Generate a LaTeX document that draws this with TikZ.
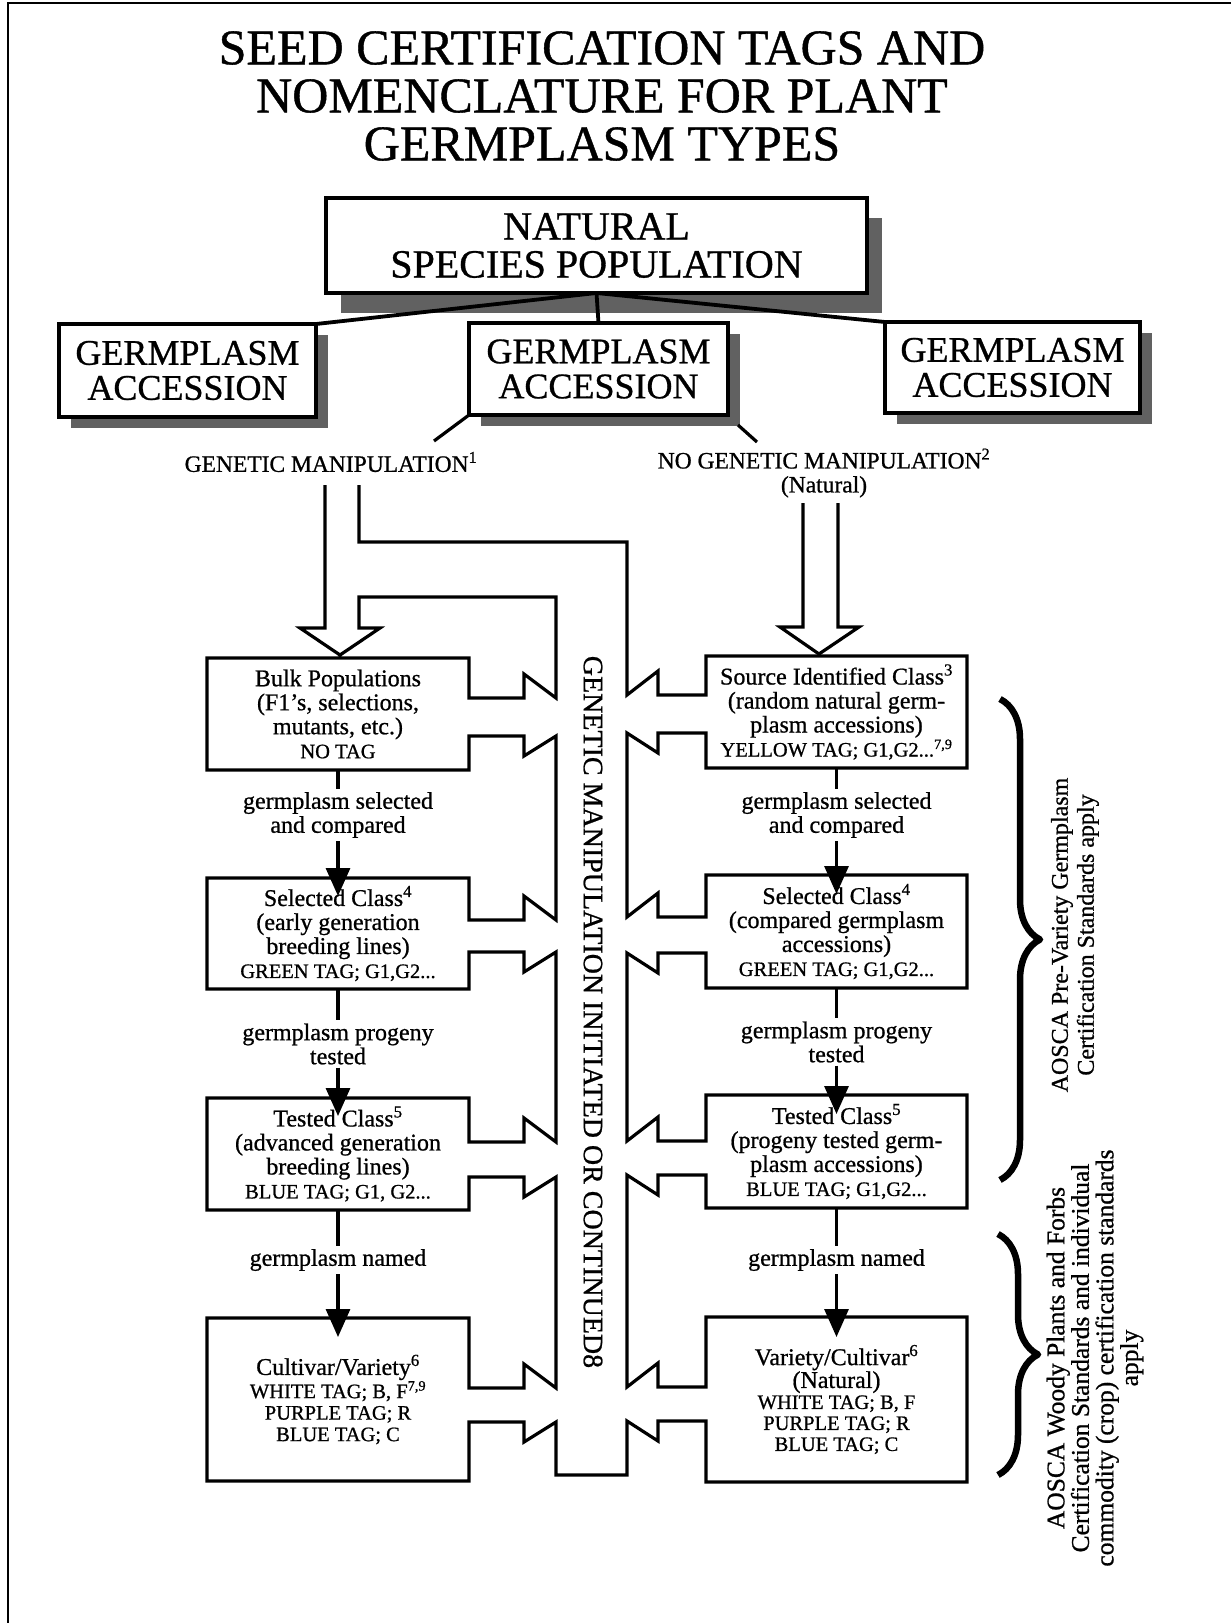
\documentclass[tikz,border=0pt]{standalone}
\usepackage{fontspec}
\setmainfont[FakeBold=0.8]{Liberation Serif}
\usetikzlibrary{arrows.meta,shadows,decorations.pathreplacing}
\newcommand\tagf{\fontsize{20.5}{22}\selectfont}
\begin{document}
\begin{tikzpicture}[x=1pt,y=-1pt,line join=miter,
  outline/.style={line width=3.2pt},
  topbox/.style={draw,line width=3.4pt,fill=white,inner sep=0pt,outer sep=0pt,align=center},
  classbox/.style={inner sep=0pt,outer sep=0pt,align=center,font=\fontsize{24}{24}\selectfont},
  lbl/.style={inner sep=3pt,align=center,font=\fontsize{24}{24}\selectfont},
  conn/.style={line width=3.2pt},
  tipline/.style={conn,-{Triangle[length=28pt,width=24pt]}},
  curly/.style={line width=6.5pt,line join=round,decorate,decoration={brace,amplitude=40pt}},
  ]
\useasboundingbox (0,0) rectangle (1231,1623);
\fill[white] (0,0) rectangle (1231,1623);
\draw[line width=2.5pt] (8,1623) -- (8,3) -- (1231,3);

% title
\node[font=\fontsize{50}{48}\selectfont,align=center] (title) at (602,96)
  {SEED CERTIFICATION TAGS AND\\NOMENCLATURE FOR PLANT\\GERMPLASM TYPES};

% top boxes
\node[topbox,minimum width=541pt,minimum height=95pt,font=\fontsize{40}{38}\selectfont,
  drop shadow={shadow xshift=15pt,shadow yshift=-20pt,opacity=1,fill=black!62}]
  (nat) at (596.5,245.5) {NATURAL\\SPECIES POPULATION};
\node[topbox,minimum width=257pt,minimum height=93pt,font=\fontsize{36}{35}\selectfont,
  drop shadow={shadow xshift=12pt,shadow yshift=-11pt,opacity=1,fill=black!62}]
  (gl) at (187.5,370.5) {GERMPLASM\\ACCESSION};
\node[topbox,minimum width=259pt,minimum height=92pt,font=\fontsize{36}{35}\selectfont,
  drop shadow={shadow xshift=12pt,shadow yshift=-11pt,opacity=1,fill=black!62}]
  (gm) at (598.5,369) {GERMPLASM\\ACCESSION};
\node[topbox,minimum width=255pt,minimum height=91pt,font=\fontsize{36}{35}\selectfont,
  drop shadow={shadow xshift=12pt,shadow yshift=-11pt,opacity=1,fill=black!62}]
  (gr) at (1012.5,367.5) {GERMPLASM\\ACCESSION};

\draw[line width=3.8pt] (nat.south) -- (gl.north east);
\draw[line width=3.8pt] (nat.south) -- (gm.north);
\draw[line width=3.8pt] (nat.south) -- (gr.north west);

% branch labels
\node[font=\fontsize{23.5}{24}\selectfont,inner sep=2pt] (genm) at (331,462) {GENETIC MANIPULATION\textsuperscript{1}};
\node[font=\fontsize{23.5}{24}\selectfont,inner sep=2pt,align=center] (nogen) at (824,473)
  {NO GENETIC MANIPULATION\textsuperscript{2}\\(Natural)};
\coordinate (gml) at (434,441);
\coordinate (gmr) at (757,442);
\draw[conn] (gm.south west) -- (gml);
\draw[conn] ([xshift=10pt,yshift=-10pt]gm.south east) -- (gmr);

% class boxes (text)
\node[classbox,minimum width=262pt,minimum height=112pt] (bulk) at (338,714)
  {Bulk Populations\\(F1's, selections,\\mutants, etc.)\\{\tagf NO TAG}};
\node[classbox,minimum width=262pt,minimum height=111pt] (sell) at (338,933.5)
  {Selected Class\textsuperscript{4}\\(early generation\\breeding lines)\\{\tagf GREEN TAG; G1,G2...}};
\node[classbox,minimum width=262pt,minimum height=112pt] (testl) at (338,1154)
  {Tested Class\textsuperscript{5}\\(advanced generation\\breeding lines)\\{\tagf BLUE TAG; G1, G2...}};
\node[classbox,minimum width=262pt,minimum height=163pt,font=\fontsize{24}{21.5}\selectfont] (cult) at (338,1399.5)
  {Cultivar/Variety\textsuperscript{6}\\{\tagf WHITE TAG; B, F\textsuperscript{7,9}}\\{\tagf PURPLE TAG; R}\\{\tagf BLUE TAG; C}};

\node[classbox,minimum width=261pt,minimum height=112pt] (src) at (836.5,712)
  {Source Identified Class\textsuperscript{3}\\(random natural germ-\\plasm accessions)\\{\tagf YELLOW TAG; G1,G2...\textsuperscript{7,9}}};
\node[classbox,minimum width=261pt,minimum height=113pt] (selr) at (836.5,931.5)
  {Selected Class\textsuperscript{4}\\(compared germplasm\\accessions)\\{\tagf GREEN TAG; G1,G2...}};
\node[classbox,minimum width=261pt,minimum height=113pt] (testr) at (836.5,1151.5)
  {Tested Class\textsuperscript{5}\\(progeny tested germ-\\plasm accessions)\\{\tagf BLUE TAG; G1,G2...}};
\node[classbox,minimum width=261pt,minimum height=165pt,font=\fontsize{24}{21}\selectfont] (var) at (836.5,1399.5)
  {Variety/Cultivar\textsuperscript{6}\\(Natural)\\{\tagf WHITE TAG; B, F}\\{\tagf PURPLE TAG; R}\\{\tagf BLUE TAG; C}};

% big outline: hollow arrow, channel, boxes and tabs
\draw[outline]
 (325,485) -- (325,628) -- (300,628) -- (340,655) -- (380,628) -- (359,628) -- (359,597) -- (556,597)
 -- (556,698) -- (524,674) -- (524,698) -- (469,698) -- (bulk.north east) -- (bulk.north west) -- (bulk.south west) -- (bulk.south east) -- (469,736) -- (524,736) -- (524,756) -- (556,736)
 -- (556,920) -- (524,896) -- (524,920) -- (469,920) -- (sell.north east) -- (sell.north west) -- (sell.south west) -- (sell.south east) -- (469,952) -- (524,952) -- (524,972) -- (556,952)
 -- (556,1142) -- (524,1118) -- (524,1142) -- (469,1142) -- (testl.north east) -- (testl.north west) -- (testl.south west) -- (testl.south east) -- (469,1177) -- (524,1177) -- (524,1197) -- (556,1177)
 -- (556,1388) -- (524,1364) -- (524,1388) -- (469,1388) -- (cult.north east) -- (cult.north west) -- (cult.south west) -- (cult.south east) -- (469,1422) -- (524,1422) -- (524,1442) -- (556,1422)
 -- (556,1475) -- (627,1475)
 -- (627,1421) -- (658,1441) -- (658,1421) -- (706,1421) -- (var.south west) -- (var.south east) -- (var.north east) -- (var.north west) -- (706,1387) -- (658,1387) -- (658,1363) -- (627,1387)
 -- (627,1175) -- (658,1195) -- (658,1175) -- (706,1175) -- (testr.south west) -- (testr.south east) -- (testr.north east) -- (testr.north west) -- (706,1141) -- (658,1141) -- (658,1117) -- (627,1141)
 -- (627,953) -- (658,973) -- (658,953) -- (706,953) -- (selr.south west) -- (selr.south east) -- (selr.north east) -- (selr.north west) -- (706,917) -- (658,917) -- (658,893) -- (627,917)
 -- (627,733) -- (658,753) -- (658,733) -- (706,733) -- (src.south west) -- (src.south east) -- (src.north east) -- (src.north west) -- (706,695) -- (658,695) -- (658,671) -- (627,695)
 -- (627,542) -- (359,542) -- (359,485);

% right hollow arrow
\draw[outline] (803,503) -- (803,627) -- (780,627) -- (819,654) -- (859,627) -- (838,627) -- (838,503);

% channel text
\node[rotate=-90,font=\fontsize{28}{28}\selectfont] (chan) at (593,1012) {GENETIC MANIPULATION INITIATED OR CONTINUED8};

% step labels and arrows
\node[lbl] (l1) at (338,815) {germplasm selected\\and compared};
\node[lbl] (l2) at (338,1044) {germplasm progeny\\tested};
\node[lbl] (l3) at (338,1260) {germplasm named};
\node[lbl] (r1) at (836.5,815) {germplasm selected\\and compared};
\node[lbl] (r2) at (836.5,1042) {germplasm progeny\\tested};
\node[lbl] (r3) at (836.5,1260) {germplasm named};

\draw[conn] (bulk.south) -- (l1.north);
\draw[tipline] (l1.south) -- ([yshift=-18pt]sell.north);
\draw[conn] (sell.south) -- (l2.north);
\draw[tipline] (l2.south) -- ([yshift=-18pt]testl.north);
\draw[conn] (testl.south) -- (l3.north);
\draw[tipline] (l3.south) -- ([yshift=-19pt]cult.north);

\draw[conn] (src.south) -- (r1.north);
\draw[tipline] (r1.south) -- ([yshift=-19pt]selr.north);
\draw[conn] (selr.south) -- (r2.north);
\draw[tipline] (r2.south) -- ([yshift=-19pt]testr.north);
\draw[conn] (testr.south) -- (r3.north);
\draw[tipline] (r3.south) -- ([yshift=-20pt]var.north);

% braces and standards text
\coordinate (b1a) at (1000,699);
\coordinate (b1b) at (1000,1180);
\coordinate (b2a) at (998,1234);
\coordinate (b2b) at (998,1475);
\draw[curly] (b1a) -- (b1b);
\draw[curly] (b2a) -- (b2b);
\node[rotate=90,align=center,font=\fontsize{24}{26}\selectfont] (std1) at (1075,935)
  {AOSCA Pre-Variety Germplasm\\Certification Standards apply};
\node[rotate=90,align=center,font=\fontsize{25.5}{24.5}\selectfont] (std2) at (1095,1358)
  {AOSCA Woody Plants and Forbs\\Certification Standards and individual\\commodity (crop) certification standards\\apply};
\end{tikzpicture}
\end{document}
